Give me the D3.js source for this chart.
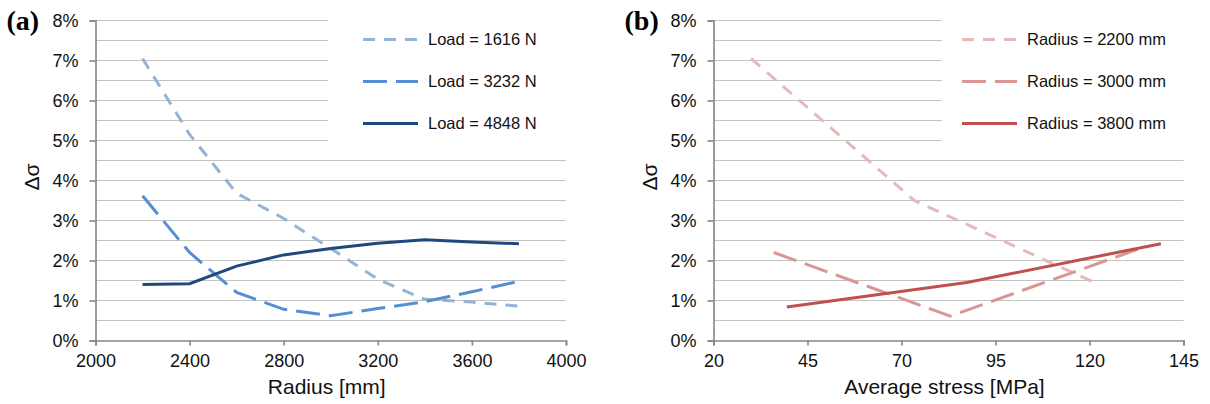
<!DOCTYPE html>
<html lang="en">
<head>
  <meta charset="UTF-8">
  <title>Stress deviation vs radius and average stress</title>
  <script src="https://cdnjs.cloudflare.com/ajax/libs/d3/7.8.5/d3.min.js"></script>
  <style>
    body {
      margin: 0;
      background: white;
    }
    svg {
      display: block;
      font-family: "Liberation Sans", Arial, sans-serif;
    }
    .axis path, .axis line {
      stroke: #868686;
      stroke-width: 1.6;
    }
    .axis text {
      font-size: 18px;
      fill: #111;
    }
    .grid line {
      stroke: #c3c3c3;
      stroke-width: 1.2;
    }
  </style>
</head>
<body>
  <script>
    // panel (a): delta sigma vs radius, one line per load
    var radius = [2200, 2400, 2600, 2800, 3000, 3200, 3400, 3600, 3800];
    var load1616 = [7.05, 5.15, 3.68, 3.05, 2.3, 1.53, 1.03, 0.96, 0.86];
    var load3232 = [3.62, 2.2, 1.2, 0.78, 0.62, 0.8, 0.97, 1.22, 1.48];
    var load4848 = [1.4, 1.42, 1.86, 2.14, 2.3, 2.43, 2.52, 2.46, 2.42];
    var loadNames = ["Load = 1616 N", "Load = 3232 N", "Load = 4848 N"];

    // panel (b): delta sigma vs average stress, one line per radius
    var stress2200 = [30, 73.4, 122];
    var dev2200 = [7.05, 3.5, 1.42];
    var stress3000 = [36, 83, 134];
    var dev3000 = [2.2, 0.61, 2.32];
    var stress3800 = [39.5, 87.4, 139];
    var dev3800 = [0.84, 1.45, 2.42];
    var radiusNames = ["Radius = 2200 mm", "Radius = 3000 mm", "Radius = 3800 mm"];

    var yTicks = [0, 1, 2, 3, 4, 5, 6, 7, 8];
    var gridLevels = d3.range(0.5, 8.01, 0.5);
    var xTicksA = [2000, 2400, 2800, 3200, 3600, 4000];
    var xTicksB = [20, 45, 70, 95, 120, 145];

    var w = 1210;
    var h = 404;

    var svg = d3.select("body").append("svg")
      .attr("width", w)
      .attr("height", h);

    function zip(xs, ys) {
      return xs.map(function(x, i) {
        return { x: x, y: ys[i] };
      });
    }

    function drawPanel(opt) {
      var xScale = d3.scaleLinear()
        .domain(opt.xDomain)
        .range([opt.left, opt.right]);

      var yScale = d3.scaleLinear()
        .domain([0, 8])
        .range([340.5, 20.5]);

      // grid lines every 0.5 %
      svg.append("g")
        .attr("class", "grid")
        .selectAll("line")
        .data(gridLevels)
        .enter()
        .append("line")
        .attr("x1", opt.left)
        .attr("x2", opt.right)
        .attr("y1", function(d) { return yScale(d); })
        .attr("y2", function(d) { return yScale(d); });

      // legend box hides the upper grid lines
      svg.append("rect")
        .attr("x", opt.legendLeft)
        .attr("y", 8)
        .attr("width", opt.right - opt.legendLeft + 4)
        .attr("height", yScale(4.5) - 12)
        .attr("fill", "white");

      var yAxis = d3.axisLeft(yScale)
        .tickValues(yTicks)
        .tickSize(6)
        .tickPadding(11)
        .tickFormat(function(d) { return d + "%"; });

      var xAxis = d3.axisBottom(xScale)
        .tickValues(opt.xTicks)
        .tickSize(5)
        .tickPadding(9)
        .tickFormat(d3.format("d"));

      svg.append("g")
        .attr("class", "axis")
        .attr("transform", "translate(" + opt.left + ",0)")
        .call(yAxis);

      svg.append("g")
        .attr("class", "axis")
        .attr("transform", "translate(0," + yScale(0) + ")")
        .call(xAxis);

      var line = d3.line()
        .x(function(d) { return xScale(d.x); })
        .y(function(d) { return yScale(d.y); });

      opt.series.forEach(function(s) {
        svg.append("path")
          .datum(s.data)
          .attr("fill", "none")
          .attr("stroke", s.color)
          .attr("stroke-width", 3)
          .attr("stroke-dasharray", s.dash)
          .attr("d", line);
      });

      // legend
      var legend = svg.append("g");
      opt.series.forEach(function(s, i) {
        var ly = 39.5 + i * 42;
        legend.append("line")
          .attr("x1", opt.legendLine)
          .attr("x2", opt.legendLine + 55)
          .attr("y1", ly)
          .attr("y2", ly)
          .attr("stroke", s.color)
          .attr("stroke-width", 3)
          .attr("stroke-dasharray", s.dash);
        legend.append("text")
          .attr("x", opt.legendLine + 65)
          .attr("y", ly)
          .attr("dy", "0.36em")
          .style("font-size", "16.5px")
          .attr("fill", "#111")
          .text(s.name);
      });

      // axis titles and panel tag
      svg.append("text")
        .attr("x", (opt.left + opt.right) / 2 - 4)
        .attr("y", 394)
        .attr("text-anchor", "middle")
        .style("font-size", "21px")
        .attr("fill", "#111")
        .text(opt.xTitle);

      svg.append("text")
        .attr("transform", "translate(" + (opt.left - 57) + ",177) rotate(-90)")
        .attr("text-anchor", "middle")
        .style("font-size", "21px")
        .attr("fill", "#111")
        .text("\u0394\u03c3");

      svg.append("text")
        .attr("x", opt.left - 89)
        .attr("y", 30)
        .style("font-family", "'Liberation Serif', 'Times New Roman', serif")
        .style("font-weight", "bold")
        .style("font-size", "28px")
        .text(opt.tag);
    }

    drawPanel({
      tag: "(a)",
      left: 95.5,
      right: 566,
      xDomain: [2000, 4000],
      xTicks: xTicksA,
      xTitle: "Radius [mm]",
      legendLeft: 328,
      legendLine: 363,
      series: [
        { name: loadNames[0], color: "#95b3d7", dash: "12,9", data: zip(radius, load1616) },
        { name: loadNames[1], color: "#558ed5", dash: "24,9", data: zip(radius, load3232) },
        { name: loadNames[2], color: "#1f497d", dash: null, data: zip(radius, load4848) }
      ]
    });

    drawPanel({
      tag: "(b)",
      left: 713.5,
      right: 1183.5,
      xDomain: [20, 145],
      xTicks: xTicksB,
      xTitle: "Average stress [MPa]",
      legendLeft: 942,
      legendLine: 962,
      series: [
        { name: radiusNames[0], color: "#e6b9b8", dash: "12,9", data: zip(stress2200, dev2200) },
        { name: radiusNames[1], color: "#d99694", dash: "24,9", data: zip(stress3000, dev3000) },
        { name: radiusNames[2], color: "#c0504d", dash: null, data: zip(stress3800, dev3800) }
      ]
    });
  </script>
</body>
</html>
